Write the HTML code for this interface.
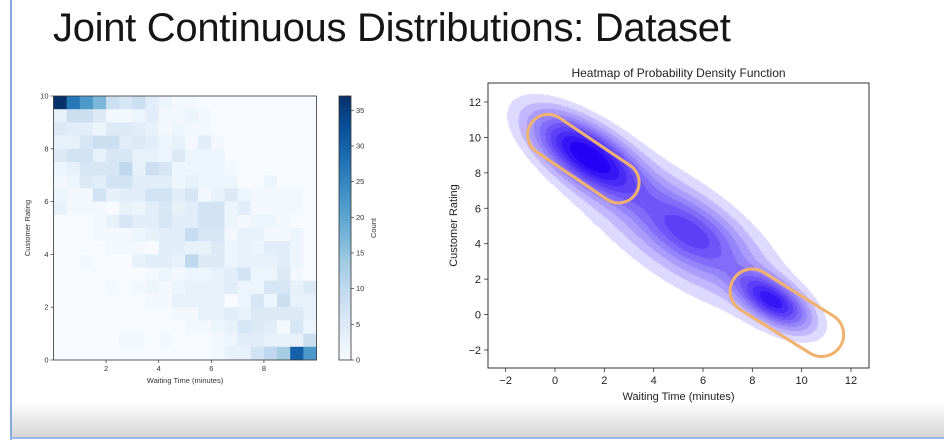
<!DOCTYPE html>
<html><head><meta charset="utf-8">
<style>
html,body{margin:0;padding:0;background:#fff;}
#root{position:relative;width:944px;height:440px;overflow:hidden;background:#fff;font-family:"Liberation Sans","DejaVu Sans",sans-serif;}
#title{position:absolute;left:53px;top:6px;font-size:40px;color:#151515;white-space:nowrap;letter-spacing:-0.3px;}
#lborder{position:absolute;left:10px;top:0;width:2px;height:440px;background:#86a9e0;}
#bottom{position:absolute;left:12px;top:402px;width:932px;height:36px;background:linear-gradient(#fff,#d4d4d4);}
#bborder{position:absolute;left:10px;top:437px;width:934px;height:2px;background:#9ab8e6;}
svg{position:absolute;left:0;top:0;}
</style></head>
<body>
<div id="root">
<div id="lborder"></div>
<div id="bottom"></div>
<div id="bborder"></div>
<div id="title">Joint Continuous Distributions: Dataset</div>
<canvas id="kde" width="944" height="440" style="position:absolute;left:0;top:0"></canvas>
<svg id="chart" width="944" height="440"></svg>
</div>
<script>
// ---- Left histogram data (rows top y=9.5-10 to bottom y=0-0.5; 20 columns x 0..10) ----
const histCounts = [
[37,27,22,17,8,6,8,4,2,1,1,0,0,0,0,0,0,0,0,0],
[3,8,8,5,1,1,2,4,1,1,2,1,0,0,0,0,0,0,0,0],
[5,4,4,2,5,5,4,3,1,2,1,1,0,0,0,0,0,0,0,0],
[3,3,6,8,8,4,5,4,2,3,1,4,1,0,0,0,0,0,0,0],
[5,7,7,3,6,6,3,3,2,5,2,2,2,0,0,0,0,0,0,0],
[2,3,6,6,6,10,3,8,6,2,2,2,2,1,0,0,0,0,0,0],
[1,2,5,4,7,7,4,4,4,2,3,2,2,2,0,0,2,0,0,0],
[2,1,1,7,3,4,4,7,7,4,6,1,3,5,2,1,1,1,1,0],
[3,1,1,1,0,3,2,4,6,3,4,7,7,2,4,1,1,1,1,0],
[0,0,0,1,3,6,4,4,6,4,4,7,7,2,1,2,2,1,0,0],
[0,0,0,1,1,1,2,3,4,4,9,6,6,1,3,3,1,1,2,0],
[0,0,0,0,1,1,1,0,4,4,3,3,5,2,3,2,4,4,2,0],
[0,0,1,0,0,0,3,4,4,3,10,5,5,2,3,3,3,4,2,0],
[0,0,0,0,0,0,0,1,2,1,2,2,3,4,7,2,2,5,1,0],
[0,0,0,0,1,0,1,2,1,2,3,3,3,4,2,2,6,6,3,5],
[0,0,0,0,0,0,0,1,1,3,3,3,3,0,2,6,2,8,3,3],
[0,0,0,0,0,0,0,0,0,1,1,3,3,4,3,5,5,5,5,3],
[0,0,0,0,0,0,0,0,0,0,1,1,2,3,6,5,4,1,6,2],
[0,0,0,0,0,1,1,0,1,0,0,0,1,2,4,4,3,3,3,8],
[0,0,0,0,0,0,0,0,0,0,0,0,1,3,3,7,10,13,30,22]
];
const histXTicks = [2,4,6,8];
const histYTicks = [0,2,4,6,8,10];
const cbarTicks = [0,5,10,15,20,25,30,35];
const cbarMax = 37;
// ---- Right KDE data ----
const kdeCenters = [[1.3,9.0],[5.5,4.6],[8.8,0.8],[4.8,5.0]];
const kdeSigmaMajor = [1.8,1.8,1.2,3.9];
const kdeSigmaMinor = [0.8,0.9,0.6,1.45];
const kdeWeights = [1.0,0.42,0.8,0.25];
const kdeLevels = [0.06,0.12,0.19,0.27,0.35,0.44,0.53,0.63,0.73,0.85];
const kdeXTicks = [-2,0,2,4,6,8,10,12];
const kdeYTicks = [-2,0,2,4,6,8,10,12];
const pillCenters = [[1.15,8.8],[9.4,0.1]];

const NS="http://www.w3.org/2000/svg";
const svg=document.getElementById('chart');
function el(tag,attrs,parent){const e=document.createElementNS(NS,tag);for(const k in attrs)e.setAttribute(k,attrs[k]);(parent||svg).appendChild(e);return e;}
function txt(s,attrs,parent){const e=el('text',attrs,parent);e.textContent=s;return e;}

const blues=[[247,251,255],[222,235,247],[198,219,239],[158,202,225],[107,174,214],[66,146,198],[33,113,181],[8,81,156],[8,48,107]];
function bluesColor(t){t=Math.max(0,Math.min(1,t));const p=t*(blues.length-1);const i=Math.min(blues.length-2,Math.floor(p));const f=p-i;const a=blues[i],b=blues[i+1];return `rgb(${Math.round(a[0]+(b[0]-a[0])*f)},${Math.round(a[1]+(b[1]-a[1])*f)},${Math.round(a[2]+(b[2]-a[2])*f)})`;}

const L={x0:53.5,x1:316.5,y0:96,y1:360};
const lx=v=>L.x0+(v/10)*(L.x1-L.x0);
const ly=v=>L.y1-(v/10)*(L.y1-L.y0);
const gL=el('g',{});


const nR=histCounts.length, nC=histCounts[0].length;
histCounts.forEach((row,r)=>{row.forEach((c,ci)=>{
  const x=lx(ci*10/nC), y=ly(10-r*10/nR);
  const rc=el('rect',{x:x,y:y,width:lx((ci+1)*10/nC)-x+0.3,height:ly(10-(r+1)*10/nR)-y+0.3,fill:bluesColor(c/cbarMax)},gL);
  
  
});});
el('rect',{x:L.x0,y:L.y0,width:L.x1-L.x0,height:L.y1-L.y0,fill:'none',stroke:'#333','stroke-width':0.8},gL);
histXTicks.forEach(t=>{el('line',{x1:lx(t),x2:lx(t),y1:L.y1,y2:L.y1+3,stroke:'#333','stroke-width':0.7},gL);
  const e=txt(t,{x:lx(t),y:L.y1+11,'font-size':7.5,'text-anchor':'middle',fill:'#333'},gL);});
histYTicks.forEach(t=>{el('line',{x1:L.x0-3,x2:L.x0,y1:ly(t),y2:ly(t),stroke:'#333','stroke-width':0.7},gL);
  const e=txt(t,{x:L.x0-5,y:ly(t)+2.5,'font-size':7.5,'text-anchor':'end',fill:'#333'},gL);});
let e1=txt('Waiting Time (minutes)',{x:(L.x0+L.x1)/2,y:383,'font-size':7.5,'text-anchor':'middle',fill:'#333'},gL);

e1=txt('Customer Rating',{x:0,y:0,'font-size':7.5,'text-anchor':'middle',fill:'#333',transform:`translate(30,${(L.y0+L.y1)/2}) rotate(-90)`},gL);

const CB={x0:339,x1:351,y0:96,y1:360};
const defs=el('defs',{});
const lg=el('linearGradient',{id:'cbg',x1:0,y1:1,x2:0,y2:0},defs);
blues.forEach((c,i)=>el('stop',{offset:i/(blues.length-1),'stop-color':`rgb(${c})`},lg));
const gcb=el('g',{});


el('rect',{x:CB.x0,y:CB.y0,width:CB.x1-CB.x0,height:CB.y1-CB.y0,fill:'url(#cbg)',stroke:'#333','stroke-width':0.8},gcb);
cbarTicks.forEach(t=>{const y=CB.y1-(t/cbarMax)*(CB.y1-CB.y0);
  el('line',{x1:CB.x1,x2:CB.x1+3,y1:y,y2:y,stroke:'#333','stroke-width':0.7},gcb);
  const e=txt(t,{x:CB.x1+5,y:y+2.5,'font-size':7.5,fill:'#333'},gcb);});
e1=txt('Count',{x:0,y:0,'font-size':7.5,'text-anchor':'middle',fill:'#333',transform:`translate(376,228) rotate(-90)`},gcb);


const R={x0:488,x1:869,y0:83,y1:368};
const rx=v=>555+(v-0)*(851-555)/12;
const ry=v=>102+(12-v)*(350-102)/14;
const ivx=px=>(px-555)*12/(851-555);
const ivy=py=>12-(py-102)*14/(350-102);
const cv=document.getElementById('kde'),ctx=cv.getContext('2d');
const img=ctx.createImageData(944,440);
const ang=Math.atan2(-10,9); const ca=Math.cos(ang), sa=Math.sin(ang);
function dens(x,y){let s=0;for(let k=0;k<kdeCenters.length;k++){const dx=x-kdeCenters[k][0],dy=y-kdeCenters[k][1];
  const u=dx*ca+dy*sa, v=-dx*sa+dy*ca; s+=kdeWeights[k]*Math.exp(-0.5*(u*u/(kdeSigmaMajor[k]**2)+v*v/(kdeSigmaMinor[k]**2)));}return s;}
let mx=0;const vals=new Float32Array(944*440);
for(let py=R.y0;py<R.y1;py++)for(let px=R.x0;px<R.x1;px++){const d=dens(ivx(px),ivy(py));vals[py*944+px]=d;if(d>mx)mx=d;}
for(let py=R.y0;py<R.y1;py++)for(let px=R.x0;px<R.x1;px++){const d=vals[py*944+px]/mx;let lvl=-1;
  for(let i=0;i<kdeLevels.length;i++)if(d>=kdeLevels[i])lvl=i;
  const o=(py*944+px)*4;
  if(lvl<0){img.data[o]=255;img.data[o+1]=255;img.data[o+2]=255;img.data[o+3]=255;continue;}
  const a=0.15+0.85*Math.pow(lvl/(kdeLevels.length-1),0.85);
  img.data[o]=Math.round(255*(1-a)+38*a);img.data[o+1]=Math.round(255*(1-a)+0*a);img.data[o+2]=Math.round(255*(1-a)+245*a);img.data[o+3]=255;}
ctx.putImageData(img,0,0);

const gR=el('g',{});


el('rect',{x:R.x0,y:R.y0,width:R.x1-R.x0,height:R.y1-R.y0,fill:'none',stroke:'#333','stroke-width':1},gR);
kdeXTicks.forEach(t=>{el('line',{x1:rx(t),x2:rx(t),y1:R.y1,y2:R.y1+4,stroke:'#333','stroke-width':0.8},gR);
  const e=txt(t<0?'\u2212'+(-t):t,{x:rx(t),y:R.y1+16,'font-size':11,'text-anchor':'middle',fill:'#222'},gR);});
kdeYTicks.forEach(t=>{el('line',{x1:R.x0-4,x2:R.x0,y1:ry(t),y2:ry(t),stroke:'#333','stroke-width':0.8},gR);
  const e=txt(t<0?'\u2212'+(-t):t,{x:R.x0-7,y:ry(t)+4,'font-size':11,'text-anchor':'end',fill:'#222'},gR);});
e1=txt('Heatmap of Probability Density Function',{x:(R.x0+R.x1)/2,y:77,'font-size':12,'text-anchor':'middle',fill:'#222'},gR);

e1=txt('Waiting Time (minutes)',{x:(R.x0+R.x1)/2,y:400,'font-size':11,'text-anchor':'middle',fill:'#222'},gR);

e1=txt('Customer Rating',{x:0,y:0,'font-size':11,'text-anchor':'middle',fill:'#222',transform:`translate(457,${(R.y0+R.y1)/2}) rotate(-90)`},gR);

const pillDims=[[126,41,34],[126,44,32]];
pillCenters.forEach((c,i)=>{const cx=rx(c[0]),cy=ry(c[1]);const[w,h,a]=pillDims[i];
  const p=el('rect',{x:cx-w/2,y:cy-h/2,width:w,height:h,rx:h/2,ry:h/2,fill:'none',stroke:'#f0b26e','stroke-width':3,transform:`rotate(${a} ${cx} ${cy})`},gR);
  
  
});
</script>
</body></html>
